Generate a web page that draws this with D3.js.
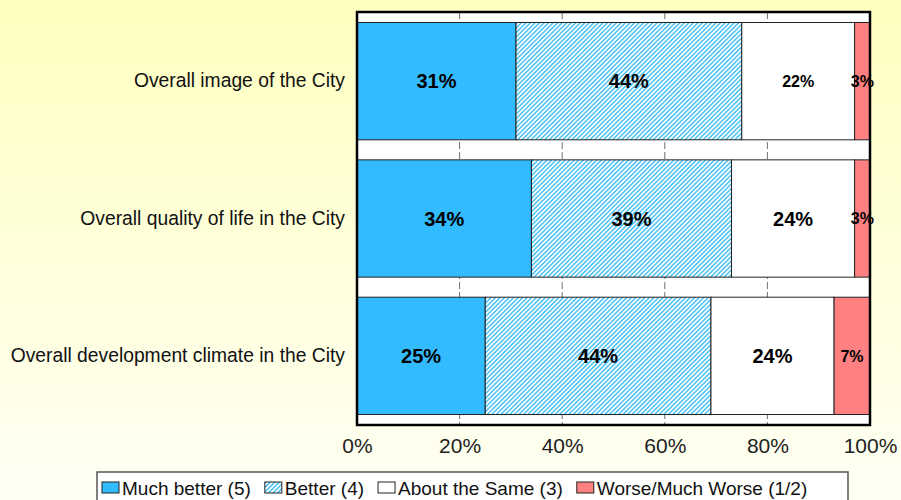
<!DOCTYPE html>
<html>
<head>
<meta charset="utf-8">
<script src="https://cdn.jsdelivr.net/npm/d3@7"></script>
<style>
  body { margin: 0; }
  svg { display: block; font-family: Arial, "Liberation Sans", sans-serif; }
</style>
</head>
<body>
<svg id="chart" width="901" height="500"></svg>
<script>
var categories = ["Overall image of the City", "Overall quality of life in the City", "Overall development climate in the City"];
var seriesNames = ["Much better (5)", "Better (4)", "About the Same (3)", "Worse/Much Worse (1/2)"];
var muchBetter = [31, 34, 25];
var better = [44, 39, 44];
var aboutSame = [22, 24, 24];
var worse = [3, 3, 7];
var xTicks = [0, 20, 40, 60, 80, 100];

var svg = d3.select("#chart"),
    width = +svg.attr("width"),
    height = +svg.attr("height");
var margin = {top: 12, right: 31, bottom: 75, left: 357};

var defs = svg.append("defs");
var bg = defs.append("linearGradient").attr("id", "bg")
    .attr("x1", 0).attr("y1", 0).attr("x2", 0).attr("y2", 1);
bg.append("stop").attr("offset", "0%").attr("stop-color", "#ffffc0");
bg.append("stop").attr("offset", "100%").attr("stop-color", "#fffff4");

var hatch = defs.append("pattern").attr("id", "hatch")
    .attr("patternUnits", "userSpaceOnUse")
    .attr("width", 3.2).attr("height", 3.2)
    .attr("patternTransform", "rotate(45)");
hatch.append("rect").attr("width", 3.2).attr("height", 3.2).attr("fill", "#ffffff");
hatch.append("rect").attr("width", 1.6).attr("height", 3.2).attr("fill", "#55c4f6");

var fills = ["#33bbff", "url(#hatch)", "#ffffff", "#ff8080"];

svg.append("rect").attr("width", width).attr("height", height).attr("fill", "url(#bg)");

var rows = categories.map(function(c, i) {
  return {cat: c, values: [muchBetter[i], better[i], aboutSame[i], worse[i]]};
});
var stack = d3.stack().keys([0, 1, 2, 3]).value(function(d, k) { return d.values[k]; });
var layers = stack(rows);

var x = d3.scaleLinear().domain([0, 100])
    .range([margin.left, width - margin.right]);
var y = d3.scaleBand().domain(categories)
    .range([margin.top, height - margin.bottom])
    .paddingInner(0.146).paddingOuter(0.0765);

// plot area
svg.append("rect")
    .attr("x", x(0)).attr("y", margin.top)
    .attr("width", x(100) - x(0)).attr("height", height - margin.bottom - margin.top)
    .attr("fill", "#ffffff");

// gridlines, hidden behind bars
svg.append("g").selectAll("line")
    .data(xTicks.slice(1, -1))
    .enter().append("line")
    .attr("x1", function(d) { return x(d); })
    .attr("x2", function(d) { return x(d); })
    .attr("y1", margin.top)
    .attr("y2", height - margin.bottom)
    .attr("stroke", "#707070")
    .attr("stroke-width", 1)
    .attr("stroke-dasharray", "7,3");

var layer = svg.append("g").selectAll("g")
    .data(layers)
    .enter().append("g")
    .attr("fill", function(d, i) { return fills[i]; });

layer.selectAll("rect")
    .data(function(d) { return d; })
    .enter().append("rect")
    .attr("x", function(d) { return x(d[0]); })
    .attr("y", function(d) { return y(d.data.cat); })
    .attr("width", function(d) { return x(d[1]) - x(d[0]); })
    .attr("height", y.bandwidth())
    .attr("stroke", "#222")
    .attr("stroke-width", 1);

layer.selectAll("text")
    .data(function(d) { return d; })
    .enter().append("text")
    .attr("x", function(d) { return (x(d[0]) + x(d[1])) / 2; })
    .attr("y", function(d) { return y(d.data.cat) + y.bandwidth() / 2; })
    .attr("dy", "0.36em")
    .attr("text-anchor", "middle")
    .attr("fill", "#000")
    .attr("font-weight", "bold")
    .attr("font-size", function(d) { return (d[1] - d[0]) > 23 ? 20 : 16; })
    .text(function(d) { return (d[1] - d[0]) + "%"; });

// frame
svg.append("rect")
    .attr("x", x(0)).attr("y", margin.top)
    .attr("width", x(100) - x(0)).attr("height", height - margin.bottom - margin.top)
    .attr("fill", "none")
    .attr("stroke", "#000")
    .attr("stroke-width", 2.5);

var xAxis = svg.append("g")
    .attr("transform", "translate(0," + (height - margin.bottom) + ")")
    .call(d3.axisBottom(x).tickValues(xTicks).tickSize(0).tickPadding(13)
      .tickFormat(function(d) { return d + "%"; }));
xAxis.select(".domain").remove();
xAxis.selectAll("text").attr("font-size", 21).attr("fill", "#222").attr("font-family", null);

var yAxis = svg.append("g")
    .attr("transform", "translate(" + x(0) + ",0)")
    .call(d3.axisLeft(y).tickSize(0).tickPadding(12));
yAxis.select(".domain").remove();
yAxis.selectAll("text").attr("font-size", 19.3).attr("fill", "#111").attr("font-family", null);

// legend
var legend = svg.append("g");
legend.append("rect")
    .attr("x", 97).attr("y", 472)
    .attr("width", 751).attr("height", 40)
    .attr("fill", "#ffffff")
    .attr("stroke", "#555").attr("stroke-width", 1.5);

var lx = 102;
seriesNames.forEach(function(name, i) {
  legend.append("rect")
      .attr("x", lx).attr("y", 482)
      .attr("width", 17).attr("height", 11)
      .attr("fill", fills[i])
      .attr("stroke", "#222").attr("stroke-width", 1);
  var t = legend.append("text")
      .attr("x", lx + 20).attr("y", 495)
      .attr("font-size", 19).attr("fill", "#111")
      .text(name);
  lx += 20 + t.node().getComputedTextLength() + 14;
});
</script>
</body>
</html>
